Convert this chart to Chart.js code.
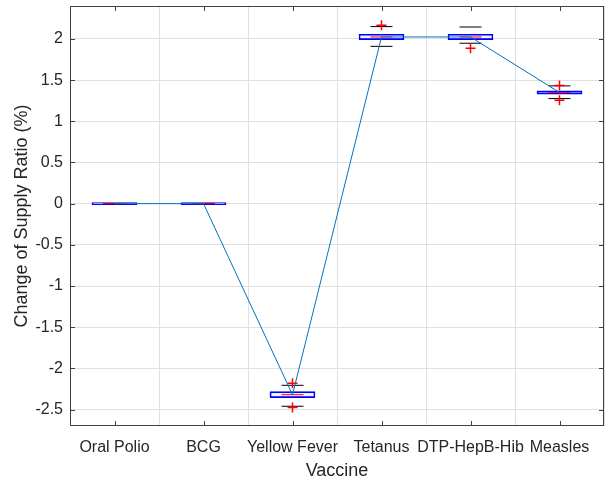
<!DOCTYPE html>
<html>
<head>
<meta charset="utf-8">
<script src="https://cdn.jsdelivr.net/npm/chart.js@4"></script>
<style>
  html, body { margin: 0; padding: 0; background: #fff; }
  #wrap { width: 605px; height: 483px; position: relative; }
</style>
</head>
<body>
<div id="wrap"><canvas id="chart"></canvas></div>
<script>
// --- data ---
const vaccines = ['Oral Polio', 'BCG', 'Yellow Fever', 'Tetanus', 'DTP-HepB-Hib', 'Measles'];
const q1 = [0, 0, -2.355, 1.992, 1.992, 1.33];
const q3 = [0, 0, -2.283, 2.057, 2.057, 1.37];
const medians = [0, 0, -2.32, 2.024, 2.024, 1.349];
const means = [0, 0, -2.32, 2.024, 2.024, 1.35];
const whiskerLow = [0, 0, -2.46, 1.91, 1.948, 1.276];
const whiskerHigh = [0, 0, -2.206, 2.15, 2.145, 1.43];
const outliers = [[], [], [-2.18, -2.476], [2.165], [1.887], [1.434, 1.257]];
const xTicks = [1, 2, 3, 4, 5, 6];
const yTicks = [-2.5, -2, -1.5, -1, -0.5, 0, 0.5, 1, 1.5, 2];

const pos = vaccines.map((v, i) => i + 1);

// box frame + inward ticks on all four sides, matlab style
const frame = {
    id: 'frame',
    afterDraw(chart) {
        const { ctx, chartArea: a, scales: { x, y } } = chart;
        ctx.save();
        ctx.strokeStyle = '#404040';
        ctx.lineWidth = 1;
        ctx.strokeRect(a.left + 0.5, a.top + 0.5, a.right - a.left - 1, a.bottom - a.top - 1);
        ctx.beginPath();
        x.ticks.forEach(t => {
            const px = Math.round(x.getPixelForValue(t.value)) + 0.5;
            ctx.moveTo(px, a.bottom); ctx.lineTo(px, a.bottom - 5);
            ctx.moveTo(px, a.top); ctx.lineTo(px, a.top + 5);
        });
        y.ticks.forEach(t => {
            const py = Math.round(y.getPixelForValue(t.value)) + 0.5;
            ctx.moveTo(a.left, py); ctx.lineTo(a.left + 5, py);
            ctx.moveTo(a.right, py); ctx.lineTo(a.right - 5, py);
        });
        ctx.stroke();
        ctx.restore();
    }
};

Chart.defaults.font.family = "'Liberation Sans', Arial, sans-serif";
Chart.defaults.color = '#262626';

new Chart(document.getElementById('chart'), {
    type: 'scatter',
    data: {
        datasets: [
            {
                type: 'line', label: 'mean', order: 1,
                data: pos.map((p, i) => ({ x: p, y: means[i] })),
                borderColor: '#0072BD', borderWidth: 1, pointRadius: 0, fill: false
            },
            {
                type: 'bar', label: 'box', order: 4,
                data: pos.map((p, i) => ({ x: p, y: [q1[i], q3[i]] })),
                barThickness: 45, minBarLength: 2, grouped: false,
                borderColor: '#0000ff', borderWidth: 1, borderSkipped: false,
                backgroundColor: 'rgba(0,0,255,0.06)'
            },
            {
                label: 'median', order: 3,
                data: pos.map((p, i) => ({ x: p, y: medians[i] })),
                pointStyle: 'line', pointRadius: 11, borderColor: '#ff0000', borderWidth: 1
            },
            {
                label: 'whiskers', order: 3,
                data: pos.flatMap((p, i) => [{ x: p, y: whiskerLow[i] }, { x: p, y: whiskerHigh[i] }]),
                pointStyle: 'line', pointRadius: 11, borderColor: '#000000', borderWidth: 1
            },
            {
                label: 'outliers', order: 2,
                data: pos.flatMap((p, i) => outliers[i].map(v => ({ x: p, y: v }))),
                pointStyle: 'cross', pointRadius: 5, borderColor: '#ff0000', borderWidth: 1.5
            }
        ]
    },
    options: {
        responsive: true,
        maintainAspectRatio: false,
        animation: false,
        events: [],
        layout: { autoPadding: false, padding: { top: 6, right: 1, left: 0, bottom: 0 } },
        plugins: { legend: { display: false }, tooltip: { enabled: false } },
        scales: {
            x: {
                type: 'linear', min: 0.5, max: 6.5, offset: false,
                afterBuildTicks: s => { s.ticks = xTicks.map(v => ({ value: v })); },
                afterFit: s => { s.height = 57; s.paddingLeft = 0; s.paddingRight = 0; },
                ticks: {
                    autoSkip: false, maxRotation: 0, padding: 12,
                    font: { size: 16 },
                    callback: v => vaccines[v - 1]
                },
                grid: { color: '#e0e0e0', drawTicks: false },
                border: { display: false },
                title: { display: true, text: 'Vaccine', font: { size: 18 }, padding: { top: 0, bottom: 1 } }
            },
            y: {
                min: -2.7, max: 2.4,
                afterBuildTicks: s => { s.ticks = yTicks.map(v => ({ value: v })); },
                afterFit: s => { s.width = 70; s.paddingTop = 0; s.paddingBottom = 0; },
                ticks: { padding: 7, font: { size: 16 }, callback: v => String(v) },
                grid: { color: '#e0e0e0', drawTicks: false },
                border: { display: false },
                title: { display: true, text: 'Change of Supply Ratio (%)', font: { size: 18 }, padding: { top: 11, bottom: 0 } }
            }
        }
    },
    plugins: [frame]
});
</script>
</body>
</html>
